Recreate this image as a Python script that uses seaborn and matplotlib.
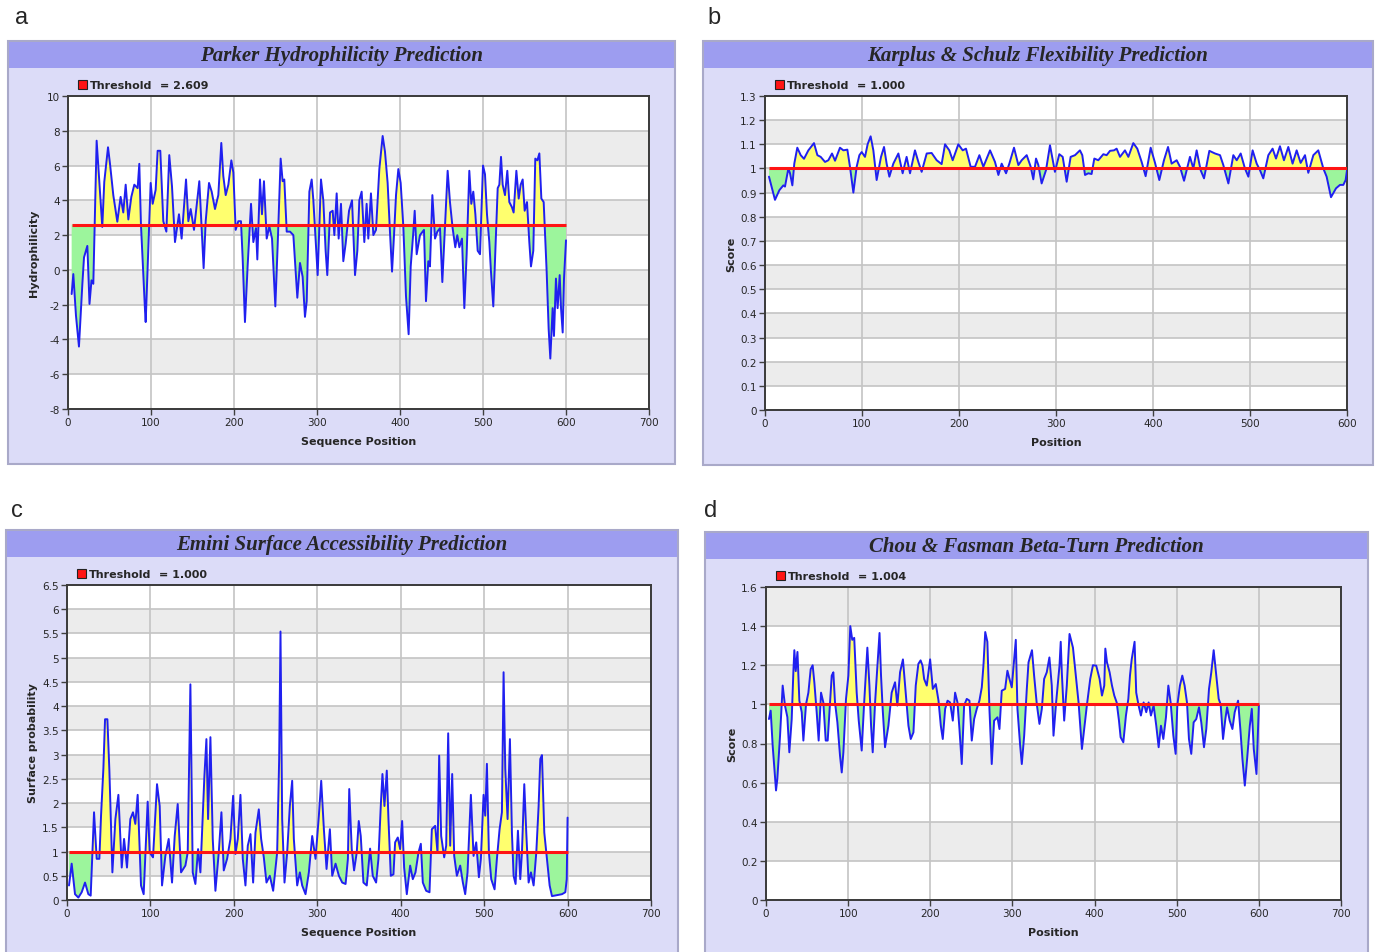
import matplotlib
matplotlib.use("Agg")
import matplotlib.pyplot as plt
from matplotlib.patches import Rectangle
from matplotlib.ticker import MultipleLocator, FuncFormatter
import numpy as np
import seaborn as sns

# ---- data (position, score) ----
parker_pos = [4.4, 6.4, 9.6, 13.2, 17.3, 19.3, 23.3, 25.9, 28.3, 30.5, 34.5, 37.7, 41.3, 43.7, 48.2, 50.6,
              54.6, 59.4, 63.4, 66.6, 69.5, 72.7, 76.3, 79.9, 83.9, 85.9, 87.9, 92.8, 93.6, 96.8, 99.6, 102.0,
              105.6, 108.0, 111.2, 114.8, 118.5, 122.0, 125.3, 128.9, 133.7, 136.9, 142.2, 145.0, 147.8, 151.8,
              158.2, 163.4, 165.9, 169.9, 173.1, 177.1, 181.1, 184.7, 187.1, 190.0, 193.2, 196.8, 199.2, 202.0,
              205.2, 208.4, 210.4, 213.2, 216.4, 220.5, 223.3, 226.5, 228.1, 231.3, 233.7, 236.1, 239.4, 242.6,
              245.8, 249.8, 252.6, 256.2, 258.6, 260.6, 263.5, 267.5, 271.5, 276.3, 279.5, 282.7, 285.5, 287.6,
              290.8, 293.6, 295.6, 300.8, 304.8, 307.6, 310.4, 312.4, 315.7, 318.9, 320.9, 323.7, 326.1, 328.9,
              331.7, 334.5, 338.6, 342.2, 345.8, 348.6, 351.0, 353.8, 357.0, 359.8, 361.8, 365.0, 367.9, 371.1,
              375.1, 379.1, 381.9, 385.1, 387.9, 390.4, 392.8, 395.2, 398.0, 400.8, 404.0, 407.2, 410.4, 412.9,
              416.1, 417.7, 420.1, 424.1, 428.9, 431.3, 434.1, 436.1, 439.0, 442.2, 445.0, 448.2, 451.0, 454.2,
              457.4, 460.2, 463.4, 466.6, 469.0, 471.5, 474.7, 477.5, 480.3, 483.5, 485.9, 488.3, 490.8, 493.6,
              496.4, 500.0, 502.4, 504.8, 507.6, 509.6, 512.4, 514.9, 517.7, 519.7, 521.7, 523.7, 526.5, 529.3,
              531.7, 534.9, 536.9, 540.2, 543.0, 545.4, 547.8, 550.2, 553.0, 555.8, 557.8, 560.6, 563.0, 565.5,
              567.9, 570.3, 573.1, 576.7, 579.1, 581.1, 583.9, 585.5, 587.9, 589.9, 592.4, 594.0, 596.0, 597.6,
              600.0]
parker_val = [-1.39, -0.24, -2.63, -4.41, -0.81, 0.72, 1.38, -1.96, -0.6, -0.8, 7.43, 5.06, 2.47, 5.06, 7.05, 6.1,
              4.29, 2.77, 4.2, 3.3, 4.9, 2.9, 4.2, 4.9, 4.7, 6.1, 2.6, -2.35, -3.0, 1.3, 5.0, 3.8,
              4.6, 6.85, 6.85, 2.8, 2.2, 6.6, 4.8, 1.6, 3.2, 1.8, 5.2, 2.8, 3.5, 2.3,
              5.1, 0.1, 2.8, 5.0, 4.5, 3.5, 4.3, 7.3, 5.4, 4.3, 4.9, 6.3, 5.6, 2.3,
              2.8, 2.8, 0.7, -3.0, 0.2, 3.8, 1.6, 2.4, 0.6, 5.2, 3.2, 5.1, 1.8, 2.5,
              1.8, -2.1, 1.4, 6.4, 5.1, 5.2, 2.2, 2.2, 2.0, -1.6, 0.4, -0.4, -2.7, -1.8,
              4.5, 5.2, 4.0, -0.3, 5.2, 4.0, 1.1, -0.3, 3.3, 3.4, 2.0, 4.4, 1.8, 3.8,
              0.5, 1.5, 3.4, 4.0, -0.3, 1.1, 4.0, 4.5, 1.6, 3.8, 1.8, 4.4, 2.0, 2.3,
              5.8, 7.7, 6.8, 5.0, 2.2, -0.1, 2.0, 4.3, 5.8, 5.0, 2.5, -1.5, -3.7, 0.2,
              2.2, 3.4, 0.9, 2.0, 2.3, -1.8, 0.5, 0.2, 4.3, 1.8, 2.2, 2.4, -0.7, 2.5,
              5.7, 3.9, 2.4, 1.3, 2.0, 1.3, 1.8, -2.2, 0.9, 5.7, 3.8, 4.5, 3.2, 1.1,
              0.9, 6.0, 5.5, 3.2, 1.6, -0.1, -2.1, 1.1, 4.7, 4.9, 6.5, 4.9, 4.3, 5.7,
              3.9, 3.6, 3.3, 5.7, 4.1, 4.9, 5.2, 3.4, 3.9, 1.6, 0.2, 1.1, 6.4, 6.3,
              6.7, 4.1, 3.9, -0.1, -3.4, -5.1, -2.2, -3.8, -0.5, -2.2, -0.3, -2.2, -3.6, -0.5,
              1.7]

karplus_pos = [4.1, 10.3, 14.8, 18.9, 20.6, 24.1, 25.8, 28.2, 30.2, 33.3, 36.8, 40.2, 44.7, 50.5, 54.0, 57.4,
               61.9, 65.3, 69.1, 72.2, 77.3, 80.8, 84.9, 87.6, 91.1, 94.5, 97.3, 99.7, 103.1, 105.8, 108.9,
               111.7, 115.1, 119.6, 122.7, 125.4, 128.2, 132.3, 137.5, 141.9, 146.0, 149.5, 154.6, 158.1, 161.5,
               166.7, 171.8, 177.0, 182.1, 185.6, 190.0, 193.5, 199.3, 203.8, 207.2, 212.0, 216.5, 221.0, 225.1,
               232.0, 237.1, 240.6, 244.0, 248.5, 251.9, 256.7, 261.2, 264.6, 269.8, 273.9, 276.6, 279.4, 281.8,
               285.2, 289.7, 293.8, 298.9, 303.4, 306.9, 311.0, 315.1, 319.6, 324.7, 327.1, 329.9, 333.3, 336.7,
               339.5, 343.6, 348.8, 352.2, 355.7, 359.8, 362.5, 366.0, 371.1, 374.6, 379.7, 383.8, 388.3, 392.4,
               397.6, 402.1, 406.5, 411.3, 415.5, 419.2, 424.4, 427.8, 432.0, 438.1, 441.6, 445.0, 449.1, 452.6,
               458.1, 463.9, 469.1, 472.5, 477.7, 482.8, 486.3, 490.4, 494.8, 498.3, 502.7, 506.9, 510.3, 513.7,
               518.9, 523.3, 526.8, 530.9, 535.0, 539.5, 543.9, 548.1, 552.2, 556.7, 560.1, 565.3, 570.4, 575.6,
               579.0, 583.5, 588.7, 592.8, 596.2, 598.6, 600.0]
karplus_val = [0.966, 0.87, 0.91, 0.93, 0.925, 1.0, 0.98, 0.93, 1.02, 1.086, 1.055, 1.04, 1.075, 1.105, 1.055, 1.048,
               1.027, 1.034, 1.062, 1.032, 1.086, 1.075, 1.078, 1.007, 0.9, 1.007, 1.055, 1.068, 1.048, 1.1, 1.133,
               1.075, 0.952, 1.048, 1.089, 1.02, 0.966, 1.02, 1.062, 0.98, 1.048, 0.98, 1.075, 1.027, 0.986,
               1.062, 1.064, 1.034, 1.018, 1.1, 1.075, 1.034, 1.1, 1.075, 1.082, 1.007, 1.007, 1.055, 1.007,
               1.075, 1.027, 0.973, 1.02, 0.98, 1.02, 1.086, 1.014, 1.034, 1.055, 1.007, 0.955, 1.041, 1.014,
               0.938, 0.993, 1.096, 0.986, 1.059, 1.048, 0.945, 1.048, 1.055, 1.075, 1.055, 0.973, 0.98, 0.977,
               1.041, 1.034, 1.059, 1.055, 1.073, 1.075, 1.082, 1.048, 1.075, 1.048, 1.105, 1.082, 1.027, 0.968,
               1.086, 1.023, 0.952, 1.034, 1.089, 1.02, 1.034, 1.007, 0.949, 1.048, 1.0, 1.075, 0.993, 0.959,
               1.073, 1.062, 1.055, 1.014, 0.938, 1.055, 1.034, 1.062, 1.0, 0.966, 1.075, 1.02, 0.993, 0.959,
               1.055, 1.082, 1.041, 1.092, 1.034, 1.089, 1.02, 1.075, 1.023, 1.055, 0.982, 1.055, 1.075, 1.0,
               0.966, 0.881, 0.918, 0.932, 0.932, 0.952, 0.993]

emini_pos = [2.4, 5.6, 9.6, 13.6, 17.6, 21.6, 25.6, 28.4, 32.4, 35.6, 38.8, 40.8, 43.6, 45.6, 48.4, 50.8, 54.4,
             58.0, 61.6, 65.6, 68.4, 71.9, 75.9, 79.1, 81.9, 84.7, 88.7, 91.9, 96.7, 99.1, 103.1, 107.9, 111.1,
             113.9, 117.9, 121.9, 125.9, 129.1, 132.7, 136.7, 141.9, 144.7, 147.9, 150.7, 153.9, 157.1, 159.9,
             164.7, 167.1, 169.1, 171.9, 174.7, 177.9, 181.9, 185.1, 187.9, 191.9, 195.9, 199.1, 201.9, 204.7,
             207.9, 210.7, 213.9, 216.7, 219.9, 223.1, 225.9, 229.9, 232.7, 235.9, 239.1, 243.1, 247.1, 251.9,
             254.3, 255.9, 257.9, 260.7, 263.9, 267.1, 269.9, 271.9, 275.9, 279.1, 281.9, 285.9, 289.9, 293.9,
             297.9, 301.9, 304.7, 307.9, 311.1, 315.1, 317.9, 321.9, 325.9, 329.9, 333.9, 336.7, 338.3, 341.3,
             344.1, 347.3, 349.7, 352.1, 355.3, 359.3, 363.3, 366.5, 370.5, 373.3, 376.1, 378.1, 380.5, 383.3,
             385.3, 388.1, 391.3, 393.3, 396.5, 399.3, 401.7, 404.1, 407.3, 411.3, 414.5, 417.7, 421.3, 424.1,
             426.5, 430.5, 434.5, 437.3, 441.3, 444.1, 446.1, 448.5, 452.1, 454.5, 456.9, 459.3, 461.7, 464.1,
             467.3, 471.3, 474.5, 477.3, 480.1, 484.1, 487.3, 490.5, 493.7, 496.1, 499.3, 501.3, 503.3, 505.7,
             508.5, 512.5, 515.3, 518.5, 521.3, 523.3, 525.3, 528.1, 530.9, 533.3, 535.3, 537.7, 540.5, 543.3,
             545.3, 548.1, 550.5, 553.3, 556.1, 559.3, 562.5, 565.3, 567.3, 569.3, 572.1, 575.3, 578.5, 581.3,
             587.3, 593.3, 597.3, 599.0, 600.0]
emini_val = [0.30, 0.75, 0.12, 0.05, 0.16, 0.36, 0.12, 0.09, 1.81, 0.85, 0.85, 1.74, 2.71, 3.73, 3.73, 2.67, 0.57,
             1.67, 2.17, 0.67, 1.26, 0.67, 1.67, 1.81, 1.57, 2.17, 0.30, 0.12, 2.03, 0.98, 0.88, 2.39, 1.94,
             0.30, 0.91, 1.26, 0.36, 1.32, 1.98, 0.57, 0.71, 0.98, 4.45, 0.57, 0.33, 1.05, 0.57,
             2.56, 3.32, 1.67, 3.36, 1.26, 0.19, 0.98, 1.81, 0.61, 0.85, 1.26, 2.15, 0.95, 1.26,
             2.17, 0.85, 0.30, 1.12, 1.36, 0.36, 1.39, 1.87, 1.26, 0.88, 0.36, 0.50, 0.19, 0.98,
             2.91, 5.54, 1.67, 0.36, 0.98, 1.94, 2.46, 1.26, 0.30, 0.57, 0.30, 0.12, 0.57, 1.32,
             0.85, 1.74, 2.46, 1.46, 0.64, 1.46, 0.50, 0.75, 0.50, 0.36, 0.33, 0.85, 2.29, 1.05,
             0.61, 0.98, 1.63, 1.32, 0.36, 0.30, 1.06, 0.50, 0.36, 0.85, 1.94, 2.60, 1.94, 2.67,
             1.67, 0.50, 0.53, 1.19, 1.29, 1.05, 1.63, 0.67, 0.12, 0.71, 0.43, 0.57, 0.98, 1.16,
             0.36, 0.19, 0.16, 1.46, 1.53, 0.98, 2.98, 1.32, 0.88, 1.12, 3.44, 1.12, 2.60, 0.91,
             0.50, 0.71, 0.36, 0.12, 0.57, 2.17, 0.91, 1.19, 0.47, 0.85, 2.17, 1.74, 2.81, 0.98,
             0.43, 0.22, 0.85, 1.46, 1.81, 4.70, 2.71, 1.67, 3.32, 1.39, 0.50, 0.33, 1.43, 0.43,
             0.98, 2.39, 1.39, 0.36, 0.57, 0.30, 0.98, 1.94, 2.91, 2.99, 1.39, 0.85, 0.30, 0.08,
             0.10, 0.12, 0.16, 0.43, 1.70]

chou_pos = [3.6, 5.7, 8.1, 10.9, 12.2, 13.8, 17.1, 20.3, 23.1, 26.0, 28.4, 31.3, 33.3, 34.5, 36.2, 38.3, 40.6,
            43.5, 45.5, 48.7, 51.6, 54.4, 56.8, 58.9, 61.7, 64.1, 67.0, 69.8, 72.7, 75.1, 78.0, 80.0, 82.0,
            84.0, 86.9, 90.1, 92.2, 94.2, 97.4, 100.3, 102.6, 105.0, 107.4, 110.4, 112.9, 116.5, 119.3, 121.8,
            123.4, 125.9, 127.9, 129.9, 132.8, 135.7, 138.2, 140.0, 142.1, 144.9, 149.0, 153.0, 157.1, 159.9,
            163.2, 166.7, 169.3, 173.4, 176.2, 179.5, 182.3, 185.5, 188.2, 190.5, 192.5, 195.7, 199.8, 203.1,
            206.7, 210.0, 212.8, 215.2, 218.1, 221.0, 224.1, 227.4, 230.2, 233.1, 235.5, 238.3, 241.2, 244.4,
            247.7, 250.5, 253.4, 256.6, 259.8, 262.7, 264.7, 266.9, 269.5, 272.0, 274.8, 277.7, 281.8, 284.2,
            287.0, 291.1, 293.9, 296.4, 299.2, 304.1, 306.1, 309.4, 311.4, 314.3, 317.5, 319.6, 323.8, 326.4,
            329.7, 332.9, 335.8, 338.6, 341.8, 345.0, 347.9, 350.0, 353.2, 357.3, 358.8, 360.1, 363.0, 366.2,
            369.5, 373.7, 376.4, 380.5, 384.6, 387.4, 390.6, 394.7, 398.0, 402.0, 406.1, 409.0, 411.8, 413.1,
            415.1, 418.3, 421.2, 424.0, 426.9, 429.7, 431.7, 435.0, 438.2, 441.1, 443.1, 445.2, 448.7, 450.7,
            453.6, 456.4, 459.7, 462.9, 465.8, 468.6, 471.9, 475.1, 478.0, 480.8, 483.7, 486.9, 489.8, 492.6,
            495.9, 498.7, 500.7, 503.9, 506.8, 509.6, 512.5, 514.9, 517.7, 520.6, 523.8, 527.1, 529.9, 533.2,
            536.0, 539.3, 542.1, 545.0, 548.2, 551.1, 553.5, 556.4, 559.2, 561.3, 564.5, 567.8, 570.6, 574.7,
            577.6, 580.0, 582.9, 585.7, 589.0, 591.4, 593.8, 597.1, 600.0]
chou_val = [0.925, 0.968, 0.79, 0.636, 0.56, 0.62, 0.84, 1.096, 0.994, 0.935, 0.755, 0.925, 1.164, 1.277, 1.17,
            1.268, 1.019, 0.96, 0.815, 1.0, 1.06, 1.18, 1.2, 1.11, 0.96, 0.815, 1.06, 1.01, 0.815, 0.815, 1.01,
            1.147, 1.164, 1.01, 0.908, 0.738, 0.652, 0.755, 1.028, 1.147, 1.40, 1.33, 1.34, 1.06, 0.917, 0.764,
            0.994, 1.18, 1.29, 1.096, 0.891, 0.755, 1.01, 1.2, 1.365, 1.15, 0.972, 0.781, 0.891, 1.06, 1.113,
            0.994, 1.164, 1.23, 1.096, 0.891, 0.823, 0.857, 1.096, 1.207, 1.225, 1.198, 1.13, 1.096, 1.23, 1.079,
            1.104, 1.019, 0.891, 0.823, 0.977, 1.019, 1.01, 0.917, 1.06, 1.01, 0.874, 0.695, 0.994, 1.028,
            1.019, 0.815, 0.925, 0.977, 1.019, 1.087, 1.198, 1.37, 1.32, 0.977, 0.695, 0.917, 0.934, 0.874,
            1.07, 1.079, 1.172, 1.13, 1.087, 1.33, 0.977, 0.79, 0.695, 0.84, 1.079, 1.215, 1.277, 1.147,
            1.0, 0.9, 0.977, 1.13, 1.164, 1.24, 1.096, 0.84, 1.01, 1.198, 1.32, 1.164, 0.917, 1.096,
            1.36, 1.29, 1.18, 1.01, 0.772, 0.874, 0.994, 1.13, 1.2, 1.198, 1.13, 1.045, 1.096, 1.285,
            1.215, 1.164, 1.096, 1.045, 1.01, 0.917, 0.832, 0.806, 0.943, 1.028, 1.147, 1.23, 1.32, 1.06,
            0.994, 0.943, 1.01, 0.96, 1.01, 0.943, 0.994, 0.891, 0.781, 0.891, 0.823, 0.934, 1.096, 1.01,
            0.84, 0.747, 0.994, 1.096, 1.147, 1.096, 1.01, 0.823, 0.747, 0.908, 0.925, 0.985, 0.908, 0.781,
            0.874, 1.079, 1.164, 1.277, 1.147, 1.028, 1.0, 0.823, 0.925, 0.985, 0.917, 0.874, 0.96, 1.019,
            0.866, 0.721, 0.585, 0.721, 0.891, 0.977, 0.772, 0.644, 0.994]

thresholds = [2.609, 1.000, 1.000, 1.004]
titles = ["Parker Hydrophilicity Prediction", "Karplus & Schulz Flexibility Prediction",
          "Emini Surface Accessibility Prediction", "Chou & Fasman Beta-Turn Prediction"]
ylabels = ["Hydrophilicity", "Score", "Surface probability", "Score"]
xlabels = ["Sequence Position", "Position", "Sequence Position", "Position"]
letters = ["a", "b", "c", "d"]

W, H = 1375, 953
PANEL_BG = "#dcdcf8"
BAR = "#9d9df0"
BAND = "#ececec"
GRID = "#c4c4c4"
LINE = "#2020f0"
YELLOW = "#ffff6e"
GREEN = "#9cf59c"
RED = "#ff1414"

sns.set_style("white")
plt.rcParams["font.family"] = ["DejaVu Sans"]

fig = plt.figure(figsize=(W / 100, H / 100), dpi=100)
fig.patch.set_facecolor("white")


def frect(x0, y0, x1, y1, **kw):
    fig.add_artist(Rectangle((x0 / W, 1 - y1 / H), (x1 - x0) / W, (y1 - y0) / H,
                             transform=fig.transFigure, **kw))


def panel(i, box, axbox, letter_xy, ylim, ystep, xmax, gray_top, pos, val):
    x0, y0, x1, y1 = box
    frect(x0, y0, x1, y1, facecolor=PANEL_BG, edgecolor="#a9a9c9", lw=1.5, zorder=0)
    frect(x0 + 1, y0 + 1, x1 - 1, y0 + 27, facecolor=BAR, edgecolor="none", zorder=0.5)
    fig.text((x0 + x1) / 2 / W, 1 - (y0 + 14) / H, titles[i], family="Liberation Serif",
             weight="bold", style="italic", fontsize=15, ha="center", va="center")
    fig.text(letter_xy[0] / W, 1 - letter_xy[1] / H, letters[i], fontsize=17,
             family="Liberation Sans", ha="center", va="center")

    ax0, ay0, ax1, ay1 = axbox
    ax = fig.add_axes([ax0 / W, 1 - ay1 / H, (ax1 - ax0) / W, (ay1 - ay0) / H])
    ax.set_facecolor("white")

    # alternating horizontal bands, counted from the top
    edges = np.arange(ylim[1], ylim[0] - ystep / 2, -ystep)
    for k in range(len(edges) - 1):
        if (k % 2 == 0) == gray_top:
            ax.axhspan(edges[k + 1], edges[k], color=BAND, lw=0, zorder=0)

    ax.grid(True, color=GRID, lw=1.2, zorder=1)
    ax.set_axisbelow(True)

    thr = thresholds[i]
    x = np.array(pos)
    y = np.array(val)
    ax.fill_between(x, y, thr, where=y >= thr, interpolate=True, color=YELLOW, lw=0, zorder=2)
    ax.fill_between(x, y, thr, where=y <= thr, interpolate=True, color=GREEN, lw=0, zorder=2)
    sns.lineplot(x=x, y=y, ax=ax, color=LINE, lw=1.4, sort=False, estimator=None, zorder=3)
    ax.plot([x[0], x[-1]], [thr, thr], color=RED, lw=2.2, zorder=4, solid_capstyle="butt")

    ax.set_xlim(0, xmax)
    ax.set_ylim(*ylim)
    ax.xaxis.set_major_locator(MultipleLocator(100))
    ax.yaxis.set_major_locator(MultipleLocator(ystep))
    ax.yaxis.set_major_formatter(FuncFormatter(lambda v, p: f"{v:g}"))
    ax.tick_params(axis="both", which="major", direction="out", length=4, width=1,
                   color="#404040", labelsize=7.5, pad=2, left=True, bottom=True)
    for s in ax.spines.values():
        s.set_color("#3a3a3a")
        s.set_linewidth(1.4)

    w = ax1 - ax0
    hgt = ay1 - ay0
    ax.set_ylabel(ylabels[i], fontsize=8, weight="bold", va="center")
    ax.yaxis.set_label_coords(-34 / w, 0.5)
    ax.set_xlabel(xlabels[i], fontsize=8, weight="bold", va="center")
    ax.xaxis.set_label_coords(0.5, -32 / hgt)

    # threshold legend above the plot
    ly = ay0 - 11
    frect(ax0 + 10, ly - 5, ax0 + 19, ly + 4, facecolor=RED, edgecolor="#222222", lw=0.8, zorder=5)
    fig.text((ax0 + 22) / W, 1 - ly / H, "Threshold", fontsize=8, weight="bold", va="center")
    fig.text((ax0 + 92) / W, 1 - ly / H, f"= {thr:.3f}", fontsize=8, weight="bold", va="center")
    return ax


panel(0, (8, 42, 675, 465), (68, 97, 649, 410), (22, 18), (-8, 10), 2, 700, False, parker_pos, parker_val)
panel(1, (703, 42, 1373, 466), (765, 97, 1347, 411), (714, 18), (0, 1.3), 0.1, 600, False, karplus_pos, karplus_val)
panel(2, (6, 531, 678, 960), (67, 586, 651, 901), (17, 511), (0, 6.5), 0.5, 700, False, emini_pos, emini_val)
panel(3, (705, 533, 1368, 960), (766, 588, 1341, 901), (711, 511), (0, 1.6), 0.2, 700, True, chou_pos, chou_val)

fig.savefig("out.png", dpi=100, facecolor="white")
